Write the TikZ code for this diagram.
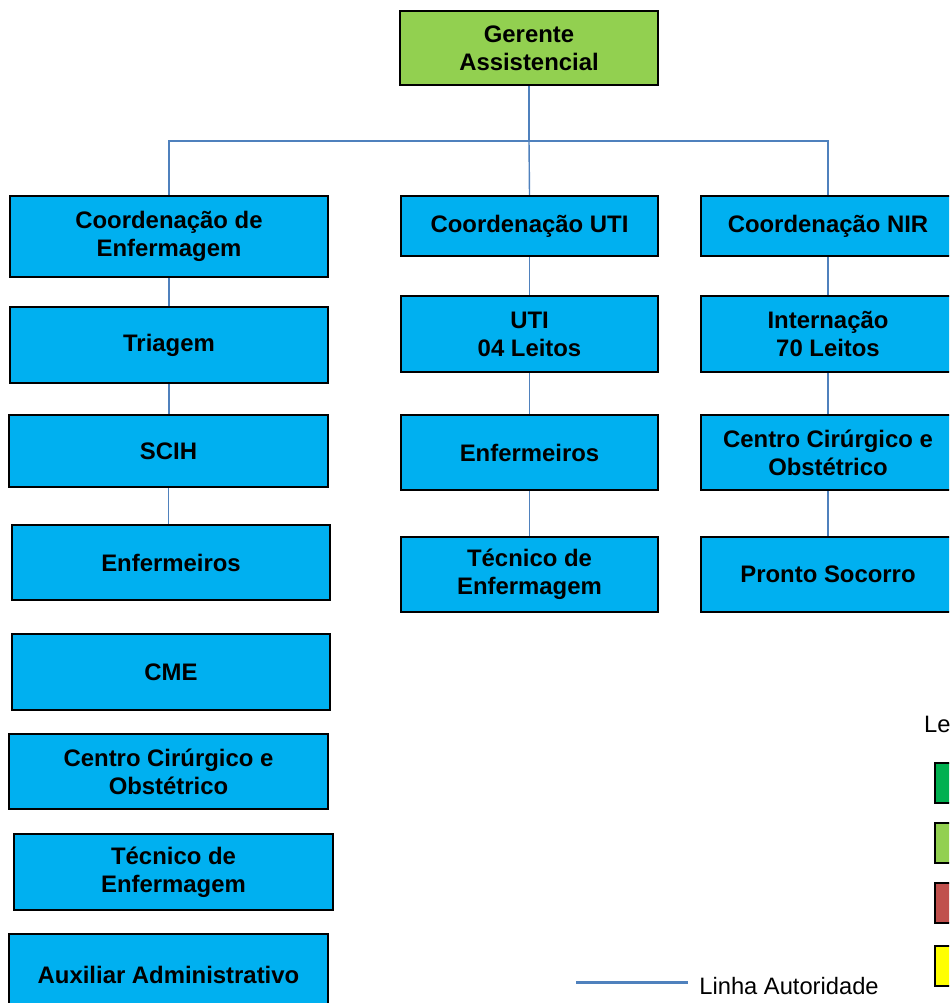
\documentclass[tikz,border=0pt]{standalone}
\usepackage{fontspec}
\setmainfont{Liberation Sans}
\definecolor{azul}{HTML}{00B0F0}
\definecolor{verdeclaro}{HTML}{92D050}
\definecolor{verde}{HTML}{00B050}
\definecolor{vermelho}{HTML}{C0504D}
\definecolor{amarelo}{HTML}{FFFF00}
\definecolor{linhaazul}{HTML}{4F81BD}
\tikzset{
    caixa/.style={draw=black, line width=1.3pt, fill=azul, align=center,
        inner sep=0pt, font=\bfseries\fontsize{13.6}{15.9}\selectfont},
    tam/.style 2 args={minimum width=#1*0.02cm, minimum height=#2*0.02cm},
    autoridade/.style={draw=linhaazul, line width=0.8pt},
}
\begin{document}
\begin{tikzpicture}[x=0.02cm, y=-0.02cm]
            \useasboundingbox (0,0) rectangle (949,1003);
            \clip (0,0) rectangle (949,1003);

            % topo
            \node[caixa, fill=verdeclaro, tam={258}{74}] (gerente) at (529, 48) {Gerente\\Assistencial};
            \coordinate (bus) at (0, 141);

            % coordenacoes
            \node[caixa, tam={318}{81}] (coordenf) at (169, 236.5) {Coordenação de\\Enfermagem};
            \node[caixa, tam={257}{60}] (coorduti) at (529.5, 226) {Coordenação UTI};
            \node[caixa, tam={254}{60}] (coordnir) at (828, 226) {Coordenação NIR};

            % coluna esquerda
            \node[caixa, tam={318}{76}] (triagem) at (169, 345) {Triagem};
            \node[caixa, tam={319}{72}] (scih) at (168.5, 451) {SCIH};
            \node[caixa, tam={318}{75}] (enfesq) at (171, 562.5) {Enfermeiros};
            \node[caixa, tam={318}{76}] (cme) at (171, 672) {CME};
            \node[caixa, tam={319}{75}] (centroesq) at (168.5, 771.5) {Centro Cirúrgico e\\Obstétrico};
            \node[caixa, tam={319}{76}] (tecesq) at (173.5, 872) {Técnico de\\Enfermagem};
            \node[caixa, tam={319}{82}] (auxiliar) at (168.5, 975) {Auxiliar Administrativo};

            % coluna do meio
            \node[caixa, tam={257}{76}] (uti) at (529.5, 334) {UTI\\04 Leitos};
            \node[caixa, tam={257}{75}] (enfmeio) at (529.5, 452.5) {Enfermeiros};
            \node[caixa, tam={257}{75}] (tecmeio) at (529.5, 574.5) {Técnico de\\Enfermagem};

            % coluna direita
            \node[caixa, tam={254}{76}] (internacao) at (828, 334) {Internação\\70 Leitos};
            \node[caixa, tam={254}{75}] (centrodir) at (828, 452.5) {Centro Cirúrgico e\\Obstétrico};
            \node[caixa, tam={254}{75}] (pronto) at (828, 574.5) {Pronto Socorro};

            % linhas de autoridade
            \draw[autoridade, line width=1.1pt] (gerente.south) to (gerente.south |- bus);
            \draw[autoridade] (gerente.south |- bus) to (coorduti.north);
            \draw[autoridade] (coordenf.north) -- (coordenf.north |- bus) -- (coordnir.north |- bus) -- (coordnir.north);

            \foreach \a/\b in {coordenf/triagem, triagem/scih, scih/enfesq,
                               coorduti/uti, uti/enfmeio, enfmeio/tecmeio,
                               coordnir/internacao, internacao/centrodir, centrodir/pronto}{
                \draw[autoridade] (\a.south) to (\a.south |- \b.north);
            }

            % legenda
            \node[anchor=west, font=\fontsize{13.5}{15}\selectfont] (legenda) at (918, 726) {Legenda};
            \foreach \cor/\y in {verde/783, verdeclaro/843, vermelho/903, amarelo/966}{
                \node[draw=black, line width=0.9pt, fill=\cor, tam={40}{40}, inner sep=0pt] (leg\cor) at (955, \y) {};
            }
            \coordinate (linhaini) at (576, 982);
            \node[anchor=west, font=\fontsize{13.5}{15}\selectfont, inner sep=0pt] (linhatexto) at (699, 986) {Linha Autoridade};
            \draw[autoridade, line width=1.7pt] (linhaini) to (linhaini -| 688, 0);
\end{tikzpicture}
\end{document}
